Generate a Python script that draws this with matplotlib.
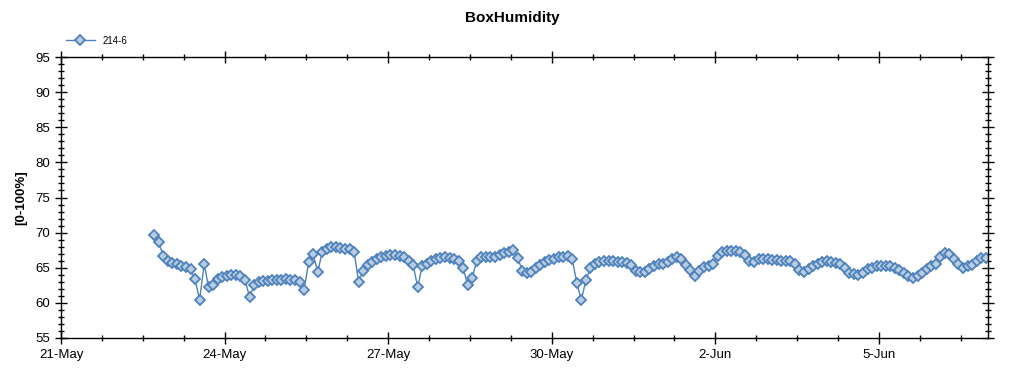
import numpy as np
import pandas as pd
import matplotlib
matplotlib.use("Agg")
import matplotlib.pyplot as plt
import matplotlib.dates as mdates
from matplotlib.ticker import MultipleLocator

plt.rcParams['font.family'] = ['Liberation Sans', 'DejaVu Sans']

series_name = "214-6"
start_time = "2023-05-22 17:00"
step_hours = 2
# box humidity readings, one every 2 hours
humidity = [
    69.7, 68.6, 66.7, 65.9, 65.7, 65.5, 65.3, 65.1, 64.8, 63.4,
    60.4, 65.5, 62.2, 62.6, 63.4, 63.7, 63.8, 63.9, 63.9, 63.8,
    63.3, 60.8, 62.5, 63.0, 63.1, 63.1, 63.2, 63.3, 63.3, 63.4,
    63.3, 63.2, 63.0, 61.9, 65.8, 66.9, 64.4, 67.3, 67.6, 67.9,
    68.0, 67.8, 67.7, 67.6, 67.2, 63.0, 64.6, 65.4, 65.8, 66.2,
    66.5, 66.7, 66.8, 66.8, 66.7, 66.5, 66.0, 65.4, 62.2, 65.3,
    65.6, 65.9, 66.2, 66.4, 66.5, 66.4, 66.3, 66.0, 65.0, 62.5,
    63.6, 66.0, 66.5, 66.6, 66.6, 66.6, 66.8, 67.1, 67.3, 67.5,
    66.4, 64.6, 64.3, 64.4, 65.0, 65.4, 65.8, 66.1, 66.3, 66.5,
    66.6, 66.7, 66.2, 62.9, 60.4, 63.2, 65.0, 65.5, 65.8, 65.9,
    65.9, 65.9, 65.8, 65.8, 65.7, 65.4, 64.6, 64.4, 64.4, 64.8,
    65.3, 65.5, 65.6, 65.8, 66.3, 66.6, 66.2, 65.4, 64.7, 63.8,
    64.6, 65.1, 65.3, 65.6, 66.7, 67.3, 67.4, 67.4, 67.4, 67.3,
    66.8, 66.0, 65.8, 66.3, 66.3, 66.2, 66.1, 66.1, 66.0, 66.0,
    65.9, 65.5, 64.7, 64.4, 64.8, 65.2, 65.5, 65.8, 65.9, 65.8,
    65.7, 65.5, 65.0, 64.3, 64.1, 64.0, 64.3, 64.8, 65.0, 65.2,
    65.3, 65.3, 65.2, 65.0, 64.7, 64.3, 63.8, 63.6, 63.8, 64.2,
    64.8, 65.2, 65.6, 66.5, 67.1, 66.9, 66.3, 65.6, 65.0, 65.2,
    65.4, 65.9, 66.4, 66.4,
]

times = pd.date_range(start_time, periods=len(humidity), freq=f"{step_hours}h")
x_start = pd.Timestamp("2023-05-21")
x_end = pd.Timestamp("2023-06-07")

fig = plt.figure(figsize=(10.24, 3.75), dpi=100)
ax = fig.add_axes([61 / 1024, 37 / 375, 927 / 1024, 281 / 375])

line_col = "#4f81bd"
ax.plot(times, humidity, color=line_col, linewidth=1.0, marker="D",
        markersize=5.5, markerfacecolor="#b9cde0", markeredgecolor=line_col,
        markeredgewidth=1.3, label=series_name)

ax.set_xlim(x_start, x_end)
ax.set_ylim(55, 95)
ax.set_yticks(np.arange(55, 96, 5))
ax.yaxis.set_minor_locator(MultipleLocator(1))

# major tick every 3 days from 21-May, minor every 18 hours
d0 = mdates.date2num(x_start)
ax.xaxis.set_major_locator(MultipleLocator(3, offset=d0 % 3))
ax.xaxis.set_minor_locator(MultipleLocator(0.75, offset=d0 % 0.75))
ax.xaxis.set_major_formatter(mdates.DateFormatter('%-d-%b'))

ax.tick_params(axis="both", which="major", direction="inout", length=8,
               width=1, labelsize=9.5, top=True, right=True, pad=4)
ax.tick_params(axis="both", which="minor", direction="inout", length=5,
               width=1, top=True, right=True)
for sp in ax.spines.values():
    sp.set_linewidth(1)

ax.set_ylabel("[0-100%]", fontsize=9.5, fontweight="bold", labelpad=6)
fig.text(0.5, 0.952, "BoxHumidity", ha="center", va="center",
         fontsize=11, fontweight="bold")
fig.legend(loc="upper left", bbox_to_anchor=(0.064, 0.905), frameon=False,
           fontsize=7, handlelength=3, borderpad=0, borderaxespad=0)

fig.savefig("out.png", dpi=100)
